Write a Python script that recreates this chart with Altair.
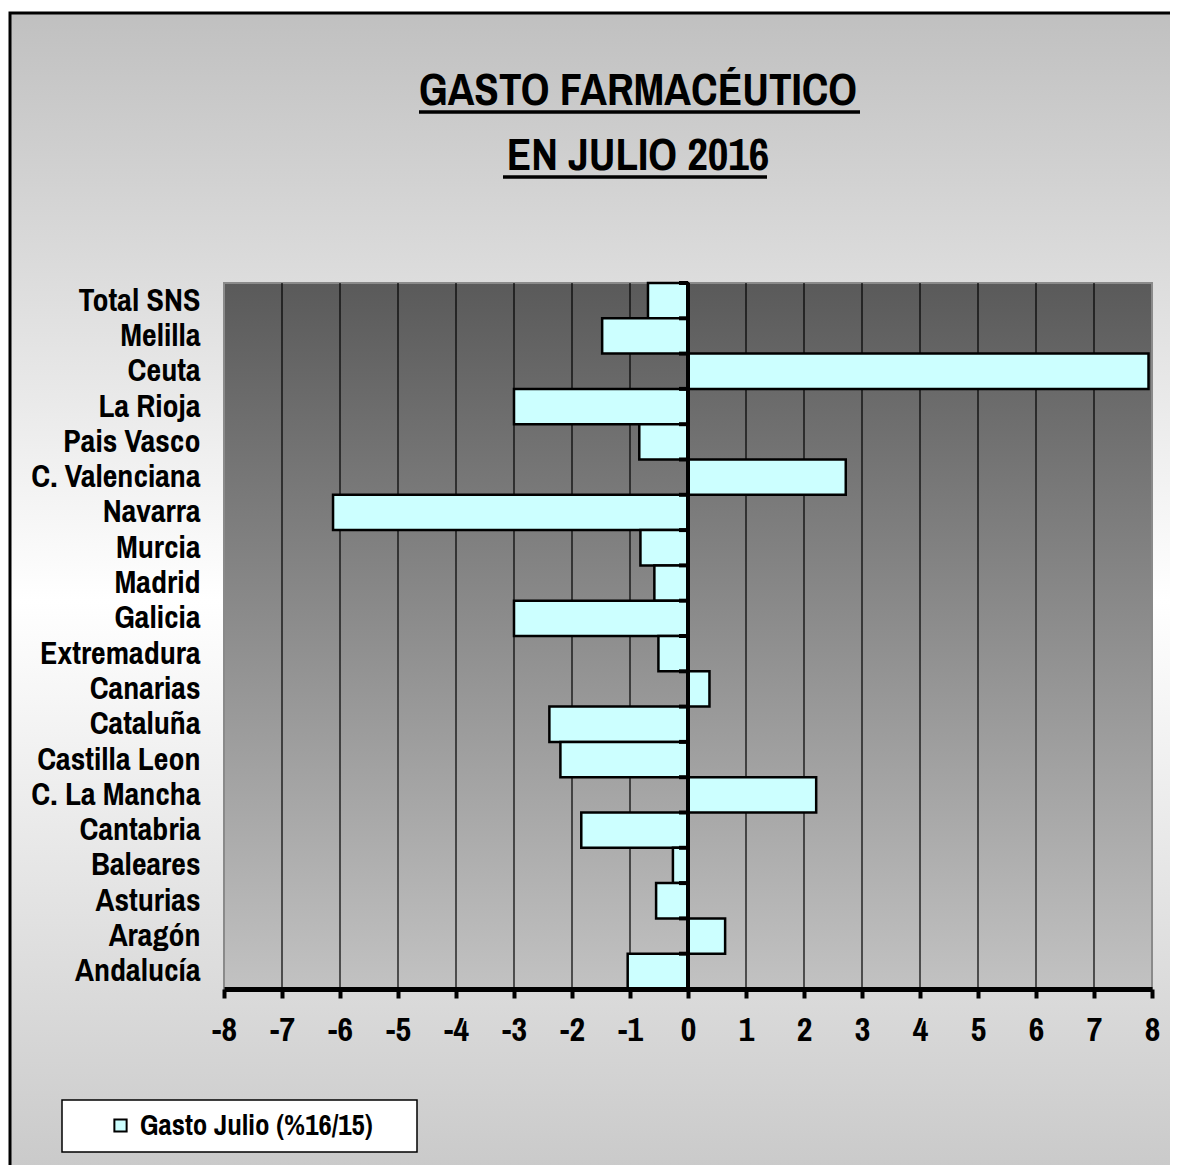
import altair as alt
import pandas as pd

regions = ["Total SNS", "Melilla", "Ceuta", "La Rioja", "Pais Vasco", "C. Valenciana",
           "Navarra", "Murcia", "Madrid", "Galicia", "Extremadura", "Canarias",
           "Cataluña", "Castilla Leon", "C. La Mancha", "Cantabria", "Baleares",
           "Asturias", "Aragón", "Andalucía"]
values = [-0.69, -1.48, 7.94, -3.0, -0.84, 2.72, -6.12, -0.82, -0.58, -3.0, -0.51, 0.37,
          -2.39, -2.2, 2.21, -1.84, -0.26, -0.55, 0.64, -1.04]
series_name = "Gasto Julio (%16/15)"
x_ticks = list(range(-8, 9))
grid_ticks = list(range(-7, 8))
title_lines = ["GASTO FARMACÉUTICO", "EN JULIO 2016"]

FONT = "Archivo Narrow, Roboto Condensed, Open Sans Condensed, sans-serif"
W, H = 928, 706

df = pd.DataFrame({"Region": regions, "Valor": values, "Serie": series_name})
grid_df = pd.DataFrame({"t": grid_ticks})
reg_df = pd.DataFrame({"Region": regions})
one = pd.DataFrame({"a": [0]})

xscale = alt.Scale(domain=[-8, 8], nice=False, zero=False)
yscale = alt.Scale(domain=regions, paddingInner=0, paddingOuter=0)

bg_grad = alt.Gradient(gradient="linear", x1=0, x2=0, y1=0, y2=1, stops=[
    alt.GradientStop(color="#c0c0c0", offset=0),
    alt.GradientStop(color="#ffffff", offset=0.5),
    alt.GradientStop(color="#c8c8c8", offset=1)])
plot_grad = alt.Gradient(gradient="linear", x1=0, x2=0, y1=0, y2=1, stops=[
    alt.GradientStop(color="#5a5a5a", offset=0),
    alt.GradientStop(color="#c2c2c2", offset=1)])

background = alt.Chart(one).mark_rect(fill=bg_grad, stroke="black", strokeWidth=3).encode(
    x=alt.value(-214), x2=alt.value(W + 40), y=alt.value(-270), y2=alt.value(H + 200))

plot_bg = alt.Chart(one).mark_rect(fill=plot_grad, stroke="#8a8a8a", strokeWidth=2).encode(
    x=alt.value(0), x2=alt.value(W), y=alt.value(0), y2=alt.value(H))

grid = alt.Chart(grid_df).mark_rule(color="black", strokeWidth=1.2).encode(
    x=alt.X("t:Q", scale=xscale))

bars = alt.Chart(df).mark_bar(stroke="black", strokeWidth=2.5).encode(
    y=alt.Y("Region:N", sort=regions, scale=yscale,
            axis=alt.Axis(title=None, domain=False, ticks=False, grid=False,
                          labelFont=FONT, labelFontSize=32, labelFontWeight="bold",
                          labelColor="black", labelPadding=24, labelLimit=0, zindex=1)),
    x=alt.X("Valor:Q", scale=xscale,
            axis=alt.Axis(title=None, values=x_ticks, grid=False, domainColor="black",
                          domainWidth=5, tickColor="black", tickWidth=4, tickSize=9,
                          labelExpr="datum.value + ''", labelOverlap=False, labelFlush=False,
                          labelFont=FONT, labelFontSize=34, labelFontWeight="bold",
                          labelColor="black", labelPadding=15, zindex=1)),
    color=alt.Color("Serie:N", scale=alt.Scale(range=["#ccffff"]),
                    legend=alt.Legend(title=None, orient="none", legendX=-118, legendY=828,
                                      symbolType="square", symbolSize=150,
                                      symbolStrokeColor="black", symbolStrokeWidth=2,
                                      labelFont=FONT, labelFontSize=29, labelFontWeight="bold",
                                      labelColor="black", labelOffset=5, padding=0,
                                      labelLimit=0, zindex=2)),
)

zero_line = alt.Chart(one).mark_rule(color="black", strokeWidth=4).encode(
    x=alt.datum(0, scale=xscale))

bound_ticks = alt.Chart(reg_df).mark_rule(color="black", strokeWidth=4, xOffset=-9).encode(
    y=alt.Y("Region:N", sort=regions, scale=yscale, bandPosition=0),
    x=alt.datum(0, scale=xscale), x2=alt.datum(0))

legend_box = alt.Chart(one).mark_rect(fill="white", stroke="black", strokeWidth=1.5).encode(
    x=alt.value(-162), x2=alt.value(193), y=alt.value(817), y2=alt.value(869))

title1 = alt.Chart(one).mark_text(text=title_lines[0], font=FONT, fontSize=45, fontWeight="bold",
                                  color="black", align="center", baseline="alphabetic").encode(
    x=alt.value(414), y=alt.value(-178))
title2 = alt.Chart(one).mark_text(text=title_lines[1], font=FONT, fontSize=45, fontWeight="bold",
                                  color="black", align="center", baseline="alphabetic").encode(
    x=alt.value(414), y=alt.value(-113))
ul1 = alt.Chart(one).mark_rule(color="black", strokeWidth=3.5).encode(
    x=alt.value(195), x2=alt.value(636), y=alt.value(-171))
ul2 = alt.Chart(one).mark_rule(color="black", strokeWidth=3.5).encode(
    x=alt.value(279), x2=alt.value(543), y=alt.value(-106))

chart = alt.layer(background, plot_bg, grid, bars, zero_line, bound_ticks, legend_box,
                  title1, title2, ul1, ul2).properties(
    width=W, height=H,
    autosize=alt.AutoSizeParams(type="none"),
    padding={"left": 216, "top": 275, "right": 18, "bottom": 176},
    background="white",
).configure_view(stroke=None)

chart.save("out.html", embed_options={"renderer": "svg", "actions": False})
